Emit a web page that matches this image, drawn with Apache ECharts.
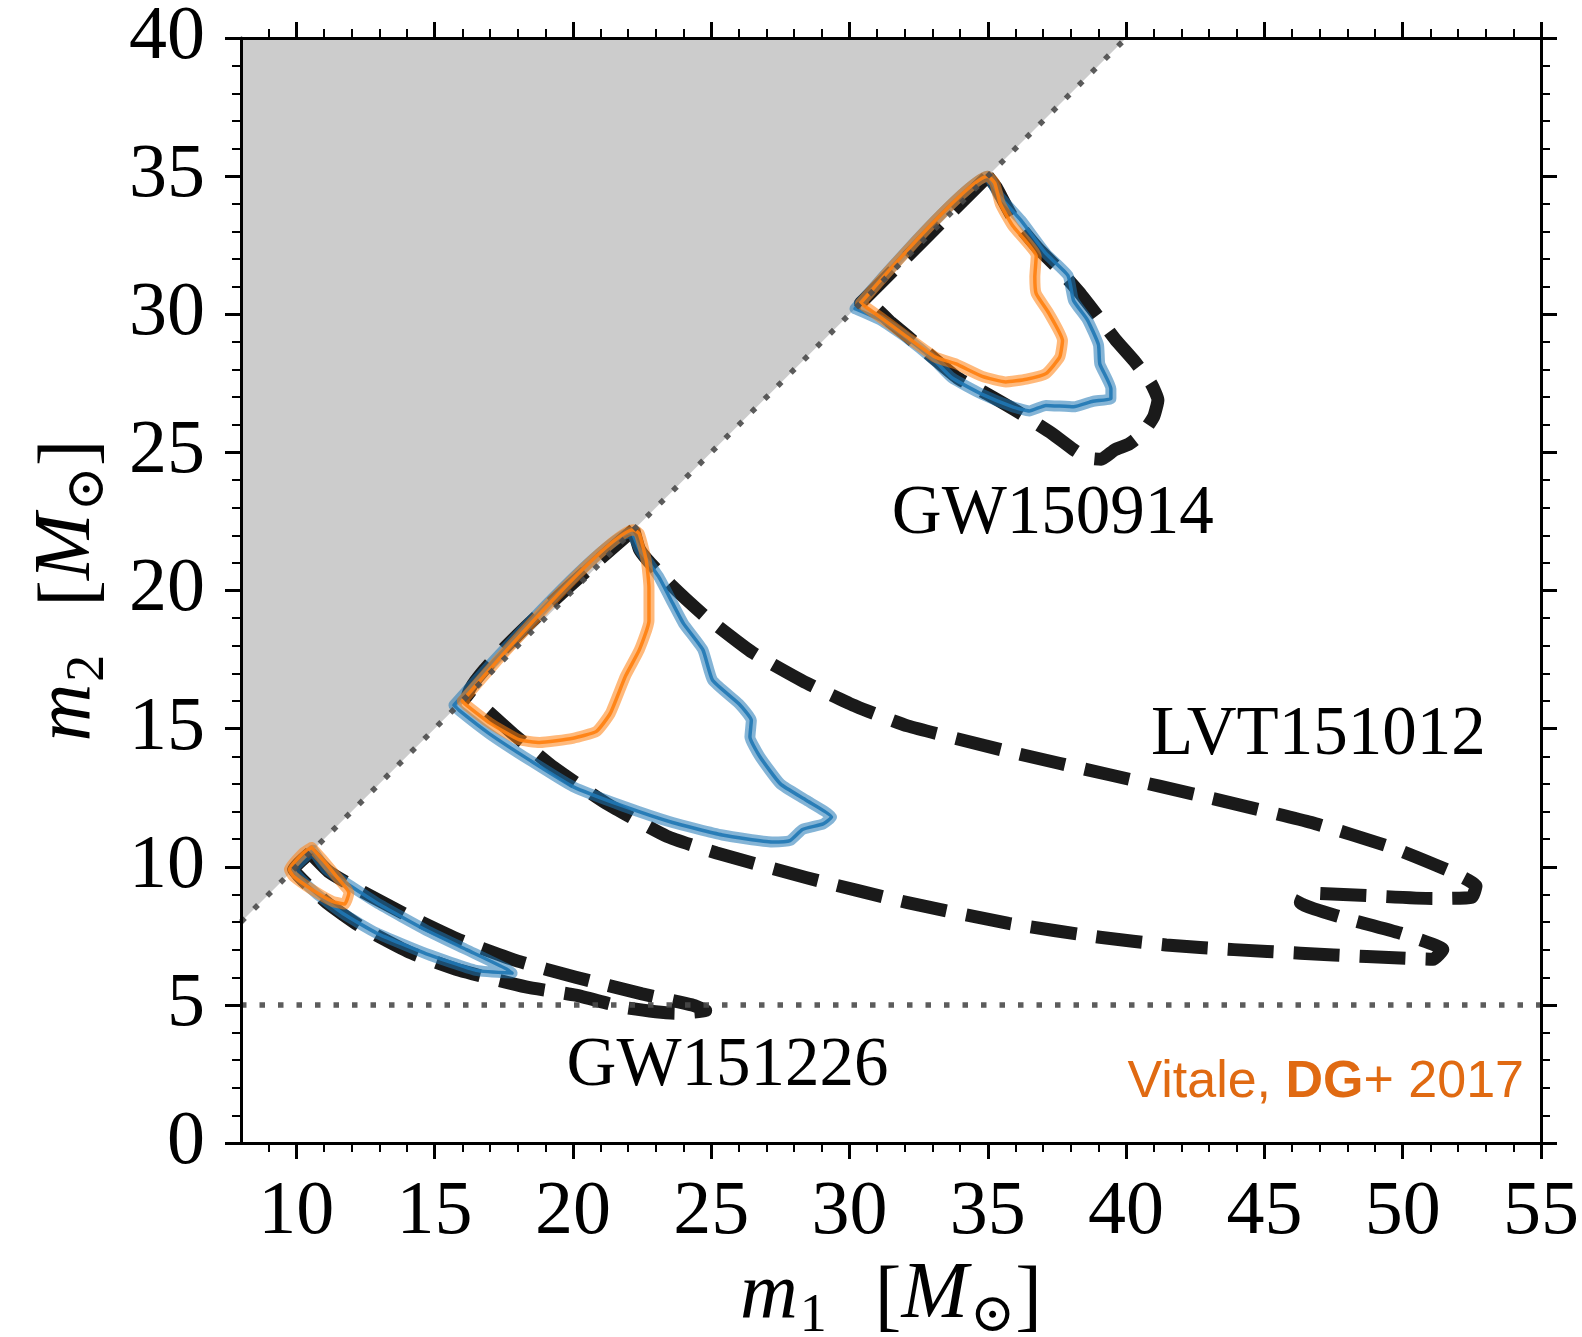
<!DOCTYPE html>
<html>
<head>
<meta charset="utf-8">
<script src="https://cdn.jsdelivr.net/npm/echarts@6/dist/echarts.min.js"></script>
<style>
  html, body { margin: 0; padding: 0; background: #ffffff; }
  #chart { width: 1582px; height: 1337px; }
</style>
</head>
<body>
<div id="chart"></div>
<script>
// Axis ticks and labels
const xTickLabels = [10, 15, 20, 25, 30, 35, 40, 45, 50, 55];
const yTickLabels = [0, 5, 10, 15, 20, 25, 30, 35, 40];
const xMinorTicks = [];
for (let v = 9; v <= 54; v++) if (v % 5 !== 0) xMinorTicks.push(v);

// Equal-mass boundary and lower mass cut
const equalMassLine = [[8, 8], [40, 40]];
const massCutLine = [[8, 5], [55, 5]];

// Event names and label anchors [m1, m2]
const eventNames = ['GW150914', 'LVT151012', 'GW151226'];
const eventLabelAt = [[37.35, 22.75], [46.95, 14.72], [25.59, 2.76]];

// 90% credible contours [m1, m2], black dashed (published)
const gw150914Black = [[35.0,35.0],[35.3,34.6],[35.9,33.5],[36.8,32.4],[37.6,31.6],[38.3,30.8],[39.0,29.9],[39.6,29.1],[40.3,28.3],[40.9,27.5],[41.15,26.9],[41.0,26.3],[40.6,25.7],[40.1,25.3],[39.6,25.1],[39.1,24.75],[38.6,24.8],[38.1,25.1],[37.3,25.7],[36.2,26.4],[35.0,27.1],[33.9,27.7],[32.7,28.7],[31.5,29.7],[30.7,30.4],[30.4,30.4],[35.0,35.0]];
const lvt151012Black = [[22.2,22.2],[22.4,21.5],[22.7,21.1],[23.6,20.15],[24.8,19.05],[26.5,17.75],[28.45,16.65],[30.25,15.8],[32.1,15.1],[35.75,14.17],[39.4,13.33],[43.0,12.5],[46.7,11.6],[49.6,10.7],[51.8,9.8],[52.65,9.3],[52.5,8.9],[51.1,8.85],[46.5,9.05],[46.3,8.7],[47.7,8.2],[49.9,7.6],[51.45,7.0],[51.1,6.65],[48.7,6.75],[46.3,6.87],[43.9,7.0],[41.45,7.17],[39.05,7.45],[35.75,7.95],[32.1,8.7],[28.45,9.6],[25.2,10.5],[23.4,11.1],[21.2,12.3],[19.3,13.6],[17.85,14.8],[16.9,15.65],[16.2,16.2],[22.2,22.2]];
const gw151226Black = [[10.5,10.5],[11.2,9.8],[12.3,9.15],[14.1,8.2],[15.9,7.35],[17.95,6.6],[20.1,6.0],[22.5,5.4],[24.3,5.0],[24.8,4.8],[23.7,4.7],[21.9,4.9],[20.1,5.35],[18.3,5.65],[15.9,6.25],[14.1,6.9],[12.3,7.85],[11.1,8.7],[10.25,9.5],[9.9,9.9],[10.5,10.5]];

// Blue contours
const gw150914Blue = [[30.2,30.2],[35.0,35.0],[35.4,34.3],[36.2,33.4],[37.1,32.2],[37.9,31.4],[38.1,30.5],[38.6,29.8],[39.0,28.9],[39.05,28.2],[39.45,27.3],[39.45,26.95],[38.8,26.85],[38.1,26.65],[37.1,26.7],[36.5,26.5],[35.9,26.65],[34.8,27.1],[33.7,27.7],[33.1,28.3],[32.0,29.2],[31.1,29.8],[30.2,30.2]];
const lvt151012Blue = [[15.7,15.85],[22.1,22.1],[22.4,21.5],[23.1,20.5],[23.6,19.55],[24.0,18.8],[24.7,17.85],[25.05,16.75],[26.0,15.9],[26.45,15.3],[26.4,14.7],[26.75,14.0],[27.5,13.0],[28.45,12.4],[29.35,11.8],[29.05,11.55],[28.3,11.35],[27.85,10.95],[27.2,10.9],[25.4,11.15],[23.6,11.6],[21.8,12.2],[20.0,12.9],[18.45,13.85],[17.0,14.8],[15.9,15.65],[15.7,15.85]];
const gw151226Blue = [[10.6,10.6],[11.1,9.9],[12.9,8.7],[14.7,7.7],[16.15,7.0],[17.6,6.3],[17.8,6.15],[16.5,6.25],[14.7,6.85],[12.9,7.6],[11.7,8.3],[10.7,9.05],[9.9,9.9],[10.6,10.6]];

// Orange contours
const gw150914Orange = [[30.4,30.4],[35.0,35.0],[35.25,34.75],[35.45,34.0],[35.9,33.2],[36.75,32.1],[36.7,31.35],[36.75,30.75],[37.2,30.05],[37.7,29.05],[37.6,28.45],[37.1,27.85],[36.4,27.65],[35.65,27.55],[34.8,27.75],[33.85,28.2],[33.1,28.45],[32.05,29.2],[31.1,29.9],[30.4,30.4]];
const lvt151012Orange = [[16.0,16.0],[22.2,22.2],[22.4,22.05],[22.65,21.1],[22.75,20.1],[22.75,18.9],[22.4,17.85],[21.9,16.9],[21.35,15.55],[20.85,14.9],[20.0,14.65],[18.8,14.5],[18.05,14.6],[17.0,15.2],[16.15,15.85],[16.0,16.0]];
const gw151226Orange = [[10.55,10.7],[11.0,10.2],[11.45,9.65],[11.9,9.05],[11.75,8.65],[11.3,8.75],[10.6,9.15],[9.9,9.65],[9.75,9.9],[10.25,10.5],[10.55,10.7]];

const SERIF = '"Liberation Serif", "DejaVu Serif", serif';
const BLUE = '#1f77b4';
const ORANGE = '#ff7f0e';

function contour(data, color, width, opacity, dash, z) {
  return {
    type: 'line', data: data, symbol: 'none', smooth: 0.15, z: z,
    silent: true, animation: false,
    lineStyle: { color: color, width: width, opacity: opacity, type: dash || 'solid',
      cap: dash ? 'butt' : 'round', join: 'round' }
  };
}

const nameRich = {
  i: { fontFamily: SERIF, fontStyle: 'italic', fontSize: 80, lineHeight: 96, verticalAlign: 'bottom', padding: [0, 0, 10, 0] },
  s: { fontFamily: SERIF, fontSize: 54, lineHeight: 96, verticalAlign: 'bottom', padding: [0, 0, 2, 2] },
  b: { fontFamily: SERIF, fontSize: 80, lineHeight: 96, verticalAlign: 'bottom', padding: [0, 0, 6, 0] },
  sp: { fontSize: 80, lineHeight: 96, width: 48 }
};

const chart = echarts.init(document.getElementById('chart'), null, { renderer: 'canvas' });

const baseX = { type: 'value', min: 8, max: 55, gridIndex: 0, z: 10,
  splitLine: { show: false } };

const option = {
  animation: false,
  backgroundColor: '#ffffff',
  grid: { left: 241, top: 38, width: 1300, height: 1105, containLabel: false, outerBoundsMode: 'none' },
  xAxis: [
    Object.assign({}, baseX, {
      position: 'bottom',
      axisLine: { show: true, lineStyle: { color: '#000', width: 3 } },
      axisTick: { show: true, inside: false, length: 16, lineStyle: { color: '#000', width: 3 }, customValues: xTickLabels },
      axisLabel: { show: true, customValues: xTickLabels, margin: 32, fontFamily: SERIF, fontSize: 76, color: '#000' },
      name: '{i|m}{s|1}{sp| }{b|[}{i|M}{s|⊙}{b|]}',
      nameLocation: 'middle', nameGap: 106,
      nameTextStyle: { rich: nameRich, color: '#000' }
    }),
    Object.assign({}, baseX, {
      position: 'bottom',
      axisLine: { show: false },
      axisTick: { show: true, inside: false, length: 9, lineStyle: { color: '#000', width: 2 }, customValues: xMinorTicks },
      axisLabel: { show: false }
    }),
    Object.assign({}, baseX, {
      position: 'top',
      axisLine: { show: true, lineStyle: { color: '#000', width: 3 } },
      axisTick: { show: true, inside: false, length: 16, lineStyle: { color: '#000', width: 3 }, customValues: xTickLabels },
      axisLabel: { show: false }
    }),
    Object.assign({}, baseX, {
      position: 'top',
      axisLine: { show: false },
      axisTick: { show: true, inside: false, length: 9, lineStyle: { color: '#000', width: 2 }, customValues: xMinorTicks },
      axisLabel: { show: false }
    })
  ],
  yAxis: [
    {
      type: 'value', min: 0, max: 40, interval: 5, position: 'left', z: 10,
      splitLine: { show: false },
      axisLine: { show: true, lineStyle: { color: '#000', width: 3 } },
      axisTick: { show: true, inside: false, length: 16, lineStyle: { color: '#000', width: 3 } },
      minorTick: { show: true, splitNumber: 5, length: 9, lineStyle: { color: '#000', width: 2 } },
      axisLabel: { show: true, margin: 36, fontFamily: SERIF, fontSize: 76, color: '#000',
        formatter: function (v) { return yTickLabels.indexOf(v) >= 0 ? String(v) : ''; } },
      name: '{i|m}{s|2}{sp| }{b|[}{i|M}{s|⊙}{b|]}',
      nameLocation: 'middle', nameGap: 122, nameRotate: 90,
      nameTextStyle: { rich: nameRich, color: '#000' }
    },
    {
      type: 'value', min: 0, max: 40, interval: 5, position: 'right', z: 10,
      splitLine: { show: false },
      axisLine: { show: true, lineStyle: { color: '#000', width: 3 } },
      axisTick: { show: true, inside: false, length: 16, lineStyle: { color: '#000', width: 3 } },
      minorTick: { show: true, splitNumber: 5, length: 9, lineStyle: { color: '#000', width: 2 } },
      axisLabel: { show: false }
    }
  ],
  graphic: [{
    type: 'text', right: 58, top: 1057, z: 20,
    style: {
      text: '{n|Vitale, }{b|DG}{n|+ 2017}',
      rich: {
        n: { fontFamily: '"Liberation Sans", Arial, sans-serif', fontSize: 52, fill: '#e06a12' },
        b: { fontFamily: '"Liberation Sans", Arial, sans-serif', fontSize: 52, fontWeight: 'bold', fill: '#e06a12' }
      }
    }
  }],
  series: [
    // forbidden region m2 > m1
    {
      type: 'line', data: equalMassLine, symbol: 'none', z: 1, silent: true,
      lineStyle: { width: 0 },
      areaStyle: { color: '#cccccc', opacity: 1, origin: 'end' }
    },
    contour(gw150914Black, '#1a1a1a', 13, 1, [46, 20], 2),
    contour(lvt151012Black, '#1a1a1a', 13, 1, [46, 20], 2),
    contour(gw151226Black, '#1a1a1a', 13, 1, [46, 20], 2),
    contour(gw150914Blue, BLUE, 11, 0.55, null, 3),
    contour(lvt151012Blue, BLUE, 11, 0.55, null, 3),
    contour(gw151226Blue, BLUE, 11, 0.55, null, 3),
    contour(gw150914Blue, BLUE, 3.5, 0.9, null, 3),
    contour(lvt151012Blue, BLUE, 3.5, 0.9, null, 3),
    contour(gw151226Blue, BLUE, 3.5, 0.9, null, 3),
    contour(gw150914Orange, ORANGE, 11, 0.55, null, 4),
    contour(lvt151012Orange, ORANGE, 11, 0.55, null, 4),
    contour(gw151226Orange, ORANGE, 11, 0.55, null, 4),
    contour(gw150914Orange, ORANGE, 3.5, 0.9, null, 4),
    contour(lvt151012Orange, ORANGE, 3.5, 0.9, null, 4),
    contour(gw151226Orange, ORANGE, 3.5, 0.9, null, 4),
    // dotted guides
    {
      type: 'line', data: equalMassLine, symbol: 'none', z: 5, silent: true,
      lineStyle: { color: '#4a4a4a', width: 5.5, type: [5.5, 13], cap: 'butt', opacity: 0.9 }
    },
    {
      type: 'line', data: massCutLine, symbol: 'none', z: 5, silent: true,
      lineStyle: { color: '#4a4a4a', width: 5.5, type: [5.5, 13], cap: 'butt', opacity: 0.9 }
    },
    // event names
    {
      type: 'custom', z: 6, silent: true,
      data: eventLabelAt.map(function (p, k) { return [p[0], p[1], k]; }),
      renderItem: function (params, api) {
        const pt = api.coord([api.value(0), api.value(1)]);
        return {
          type: 'text', x: pt[0], y: pt[1],
          style: {
            text: eventNames[api.value(2)],
            fontFamily: SERIF, fontSize: 69, fill: '#000000',
            align: 'center', verticalAlign: 'middle'
          }
        };
      }
    }
  ]
};
chart.setOption(option);
</script>
</body>
</html>
